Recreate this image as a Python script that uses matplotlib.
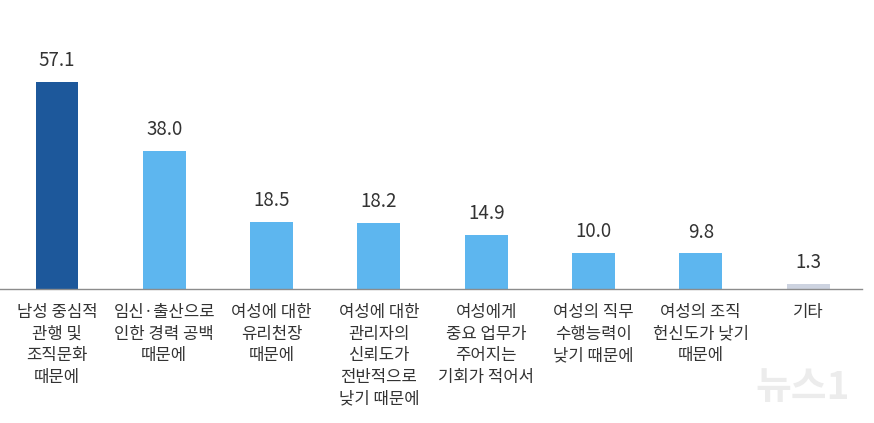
import matplotlib
matplotlib.use("Agg")
import matplotlib.pyplot as plt

plt.rcParams['font.family'] = ['Noto Sans CJK KR', 'DejaVu Sans']

categories = [
    "남성 중심적\n관행 및\n조직문화\n때문에",
    "임신·출산으로\n인한 경력 공백\n때문에",
    "여성에 대한\n유리천장\n때문에",
    "여성에 대한\n관리자의\n신뢰도가\n전반적으로\n낮기 때문에",
    "여성에게\n중요 업무가\n주어지는\n기회가 적어서",
    "여성의 직무\n수행능력이\n낮기 때문에",
    "여성의 조직\n헌신도가 낮기\n때문에",
    "기타",
]
values = [57.1, 38.0, 18.5, 18.2, 14.9, 10.0, 9.8, 1.3]
value_labels = ["57.1", "38.0", "18.5", "18.2", "14.9", "10.0", "9.8", "1.3"]

colors = ["#1d589b"] + ["#5db6ef"] * 6 + ["#cdd3e0"]

W, H = 874, 423
fig = plt.figure(figsize=(W / 100, H / 100), dpi=100)
ax = fig.add_axes([0, 0, 1, 1])

spacing = 107.3
x0 = 57
px_per_unit = 3.625
base = 289
ax.set_xlim(-x0 / spacing, (W - x0) / spacing)
ax.set_ylim(-(H - base) / px_per_unit, base / px_per_unit)
ax.axis('off')

xs = list(range(len(values)))
ax.bar(xs, values, width=0.4, color=colors, zorder=2)
ax.axhline(0, xmin=0, xmax=862 / W, color="#8c8c8c", lw=1.0, zorder=3)

for x, v, lab in zip(xs, values, value_labels):
    ax.text(x, v + 3.0, lab, ha='center', va='bottom', fontsize=13.5, color="#333333")

for x, c in zip(xs, categories):
    ax.text(x, -4.2, c, ha='center', va='top', fontsize=12, color="#333333",
            linespacing=1.35, fontweight='medium')

fig.text(803 / W, 1 - 387 / H, "뉴스1", ha='center', va='center', fontsize=28,
         color="#ececec", style='italic', fontweight='bold')

fig.savefig("out.png", dpi=100, facecolor="white")
